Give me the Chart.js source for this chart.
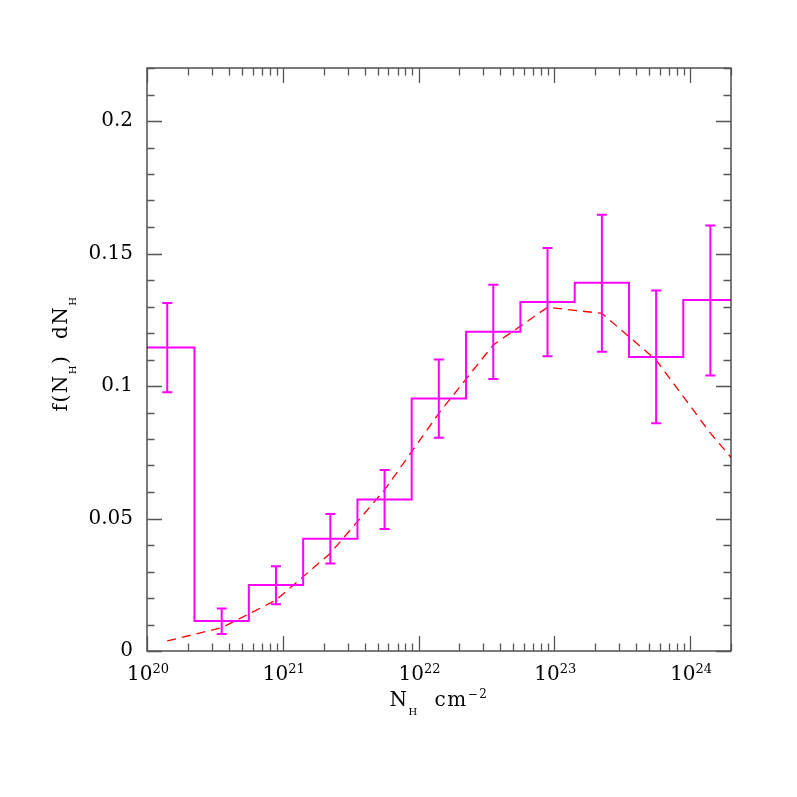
<!DOCTYPE html>
<html>
<head>
<meta charset="utf-8">
<script src="https://cdn.jsdelivr.net/npm/chart.js@4"></script>
<style>
  html, body { margin: 0; padding: 0; background: #fff; }
  #wrap { width: 797px; height: 797px; }
</style>
</head>
<body>
<div id="wrap"><canvas id="nhChart" width="797" height="797"></canvas></div>
<script>
// Centros de los bins en N_H (cm^-2)
const nhCentres = [1.41e20, 3.55e20, 8.91e20, 2.24e21, 5.62e21, 1.41e22, 3.55e22, 8.91e22, 2.24e23, 5.62e23, 1.41e24];
// Bordes exteriores del histograma
const nhFirstEdge = 8.91e19;
const nhLastEdge = 2.24e24;
// Fraccion observada y barras de error
const fracObs = [0.1145, 0.0113, 0.0249, 0.0424, 0.0572, 0.0953, 0.1205, 0.1317, 0.1390, 0.1109, 0.1325];
const errHigh = [0.1313, 0.0160, 0.0320, 0.0517, 0.0683, 0.1100, 0.1382, 0.1521, 0.1646, 0.1360, 0.1606];
const errLow  = [0.0976, 0.0064, 0.0176, 0.0330, 0.0460, 0.0805, 0.1026, 0.1112, 0.1129, 0.0859, 0.1040];
// Modelo (linea discontinua roja)
const modelNh  = [1.41e20, 3.55e20, 8.91e20, 2.24e21, 5.62e21, 1.41e22, 3.55e22, 8.91e22, 2.24e23, 5.62e23, 1.41e24, 3.55e24];
const modelVal = [0.0038, 0.0088, 0.0192, 0.0369, 0.0608, 0.0897, 0.1155, 0.1297, 0.1274, 0.1098, 0.0822, 0.058];
// Etiquetas de los ejes
const xDecades = [20, 21, 22, 23, 24];
const yTickLabels = ['0', '0.05', '0.1', '0.15', '0.2'];
const yTickValues = [0, 0.05, 0.1, 0.15, 0.2];

const FONT = '"DejaVu Serif", "Liberation Serif", serif';

// Histograma: bordes + centros, escalonado en el punto medio
const histPoints = [{ x: nhFirstEdge, y: fracObs[0] }]
    .concat(nhCentres.map((x, i) => ({ x: x, y: fracObs[i] })))
    .concat([{ x: nhLastEdge, y: fracObs[fracObs.length - 1] }]);
const modelPoints = modelNh.map((x, i) => ({ x: x, y: modelVal[i] }));

// Barras de error dibujadas con las escalas del grafico
const errorBars = {
    id: 'errorBars',
    afterDatasetsDraw(chart) {
        const { ctx, scales: { x, y }, chartArea } = chart;
        ctx.save();
        ctx.beginPath();
        ctx.rect(chartArea.left, chartArea.top, chartArea.right - chartArea.left, chartArea.bottom - chartArea.top);
        ctx.clip();
        ctx.strokeStyle = '#ff00ff';
        ctx.lineWidth = 2;
        nhCentres.forEach((nh, i) => {
            const px = x.getPixelForValue(nh);
            const top = y.getPixelForValue(errHigh[i]);
            const bot = y.getPixelForValue(errLow[i]);
            ctx.beginPath();
            ctx.moveTo(px, top); ctx.lineTo(px, bot);
            ctx.moveTo(px - 5, top); ctx.lineTo(px + 5, top);
            ctx.moveTo(px - 5, bot); ctx.lineTo(px + 5, bot);
            ctx.stroke();
        });
        ctx.restore();
    }
};

// Escribe un texto compuesto (trozos con tamaño y desplazamiento vertical)
function drawParts(ctx, parts, xStart, yBase) {
    let cx = xStart;
    parts.forEach(p => {
        ctx.font = p[1] + 'px ' + FONT;
        ctx.fillText(p[0], cx, yBase + p[2]);
        cx += ctx.measureText(p[0]).width;
    });
}
function partsWidth(ctx, parts) {
    let w = 0;
    parts.forEach(p => { ctx.font = p[1] + 'px ' + FONT; w += ctx.measureText(p[0]).width; });
    return w;
}

// Marco, marcas interiores y textos de los ejes
const frameAxes = {
    id: 'frameAxes',
    afterDraw(chart) {
        const { ctx, scales: { x, y }, chartArea: a } = chart;
        ctx.save();
        ctx.strokeStyle = '#222';
        ctx.lineWidth = 1.2;
        ctx.strokeRect(a.left, a.top, a.right - a.left, a.bottom - a.top);

        ctx.strokeStyle = '#555';
        ctx.lineWidth = 1.3;
        ctx.beginPath();
        // marcas del eje x (log)
        for (let d = 20; d <= 24; d++) {
            for (let m = 1; m <= 9; m++) {
                const v = m * Math.pow(10, d);
                if (v > x.max * 1.0001) continue;
                const px = Math.round(x.getPixelForValue(v)) + 0.5;
                const len = m === 1 ? 15 : 7.5;
                ctx.moveTo(px, a.bottom); ctx.lineTo(px, a.bottom - len);
                ctx.moveTo(px, a.top); ctx.lineTo(px, a.top + len);
            }
        }
        // marcas del eje y
        for (let k = 0; k <= 22; k++) {
            const v = k / 100;
            const py = Math.round(y.getPixelForValue(v)) + 0.5;
            const len = k % 5 === 0 ? 15 : 7.5;
            ctx.moveTo(a.left, py); ctx.lineTo(a.left + len, py);
            ctx.moveTo(a.right, py); ctx.lineTo(a.right - len, py);
        }
        ctx.stroke();

        ctx.fillStyle = '#000';
        // etiquetas del eje y
        ctx.font = '20px ' + FONT;
        ctx.textAlign = 'right';
        ctx.textBaseline = 'middle';
        yTickValues.forEach((v, i) => {
            ctx.fillText(yTickLabels[i], 133, y.getPixelForValue(v));
        });
        // etiquetas del eje x: 10 con exponente
        ctx.textBaseline = 'alphabetic';
        ctx.textAlign = 'left';
        xDecades.forEach(d => {
            const px = x.getPixelForValue(Math.pow(10, d));
            const parts = [['10', 20, 0], [String(d), 13, -7]];
            drawParts(ctx, parts, px - partsWidth(ctx, parts) / 2 + 1, 680);
        });
        // titulo del eje x: N_H cm^-2
        ctx.letterSpacing = '1.5px';
        const xt = [['N', 20, 0], ['H', 10, 9], ['  cm', 20, 0], ['\u22122', 12, -8]];
        drawParts(ctx, xt, (a.left + a.right) / 2 - partsWidth(ctx, xt) / 2, 706);
        // titulo del eje y: f(N_H) dN_H (rotado)
        const yt = [['f(N', 20, 0], ['H', 10, 9], [')  dN', 20, 0], ['H', 10, 9]];
        const wy = partsWidth(ctx, yt);
        ctx.translate(67, (a.top + a.bottom) / 2 - 6);
        ctx.rotate(-Math.PI / 2);
        drawParts(ctx, yt, -wy / 2, 0);
        ctx.restore();
    }
};

const ctxNh = document.getElementById('nhChart').getContext('2d');
const nhChart = new Chart(ctxNh, {
    type: 'line',
    data: {
        datasets: [{
            label: 'Observado',
            data: histPoints,
            borderColor: '#ff00ff',
            borderWidth: 2,
            stepped: 'middle',
            pointRadius: 0,
            fill: false
        }, {
            label: 'Modelo',
            data: modelPoints,
            borderColor: '#ff0000',
            borderWidth: 1.3,
            borderDash: [9, 6],
            pointRadius: 0,
            tension: 0,
            fill: false
        }]
    },
    options: {
        responsive: false,
        animation: false,
        devicePixelRatio: 1,
        layout: { padding: { left: 147, right: 66, top: 68, bottom: 146 } },
        plugins: { legend: { display: false }, tooltip: { enabled: false } },
        scales: {
            x: { type: 'logarithmic', min: 1e20, max: 2e24, display: false },
            y: { type: 'linear', min: 0, max: 0.22, display: false }
        }
    },
    plugins: [errorBars, frameAxes]
});
</script>
</body>
</html>
